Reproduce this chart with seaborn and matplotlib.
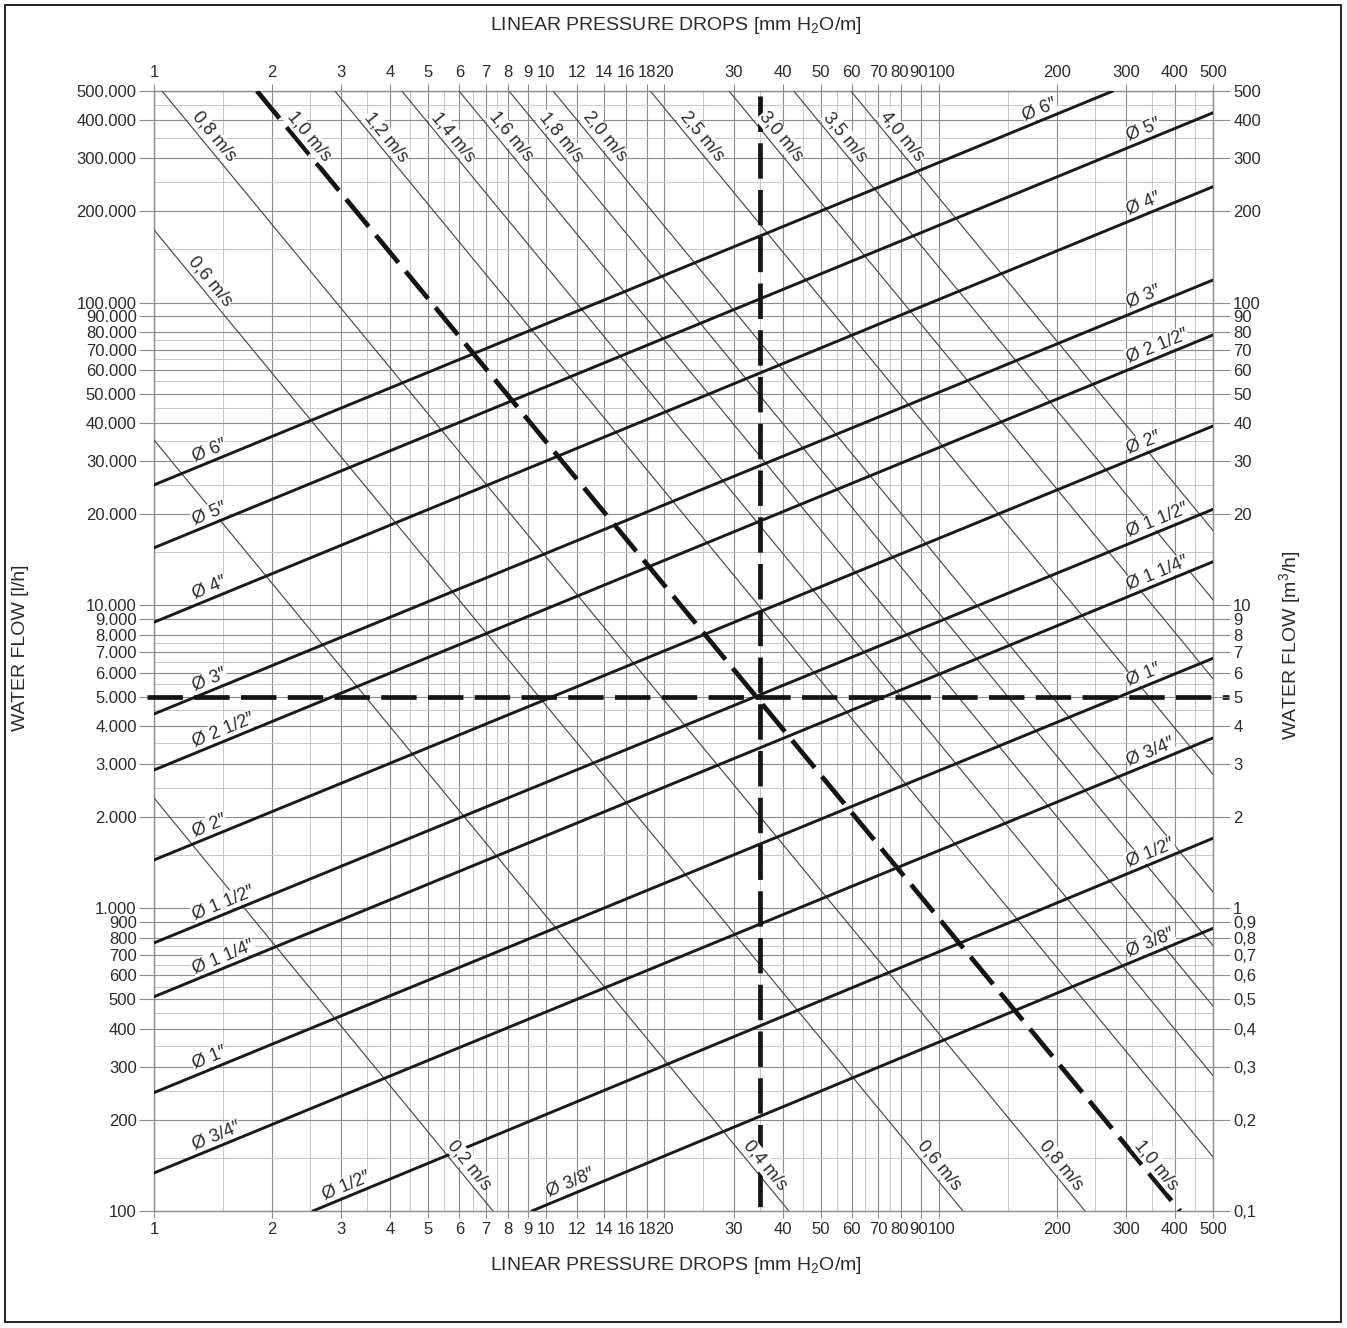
import numpy as np
import pandas as pd
import matplotlib
matplotlib.use("Agg")
import matplotlib.pyplot as plt
import matplotlib.transforms as mtransforms
import seaborn as sns
from matplotlib.patches import Rectangle
from matplotlib.ticker import NullFormatter, NullLocator

# ---------------- data ----------------
x_tick_values = [1, 2, 3, 4, 5, 6, 7, 8, 9, 10, 12, 14, 16, 18, 20, 30, 40, 50, 60, 70, 80, 90,
                 100, 200, 300, 400, 500]
x_tick_labels = ["1", "2", "3", "4", "5", "6", "7", "8", "9", "10", "12", "14", "16", "18", "20",
                 "30", "40", "50", "60", "70", "80", "90", "100", "200", "300", "400", "500"]
x_minor_grid = [1.5, 2.5, 3.5, 4.5, 5.5, 6.5, 7.5, 25, 35, 45, 55, 65, 75, 150, 250, 350, 450]

y_tick_values = [100, 200, 300, 400, 500, 600, 700, 800, 900,
                 1000, 2000, 3000, 4000, 5000, 6000, 7000, 8000, 9000,
                 10000, 20000, 30000, 40000, 50000, 60000, 70000, 80000, 90000,
                 100000, 200000, 300000, 400000, 500000]
y_left_labels = ["100", "200", "300", "400", "500", "600", "700", "800", "900",
                 "1.000", "2.000", "3.000", "4.000", "5.000", "6.000", "7.000", "8.000", "9.000",
                 "10.000", "20.000", "30.000", "40.000", "50.000", "60.000", "70.000", "80.000", "90.000",
                 "100.000", "200.000", "300.000", "400.000", "500.000"]
y_right_labels = ["0,1", "0,2", "0,3", "0,4", "0,5", "0,6", "0,7", "0,8", "0,9",
                  "1", "2", "3", "4", "5", "6", "7", "8", "9",
                  "10", "20", "30", "40", "50", "60", "70", "80", "90",
                  "100", "200", "300", "400", "500"]
y_minor_grid = [150, 250, 350, 450, 550, 650, 750,
                1500, 2500, 3500, 4500, 5500, 6500, 7500,
                15000, 25000, 35000, 45000, 55000, 65000, 75000,
                150000, 250000, 350000, 450000]

# pipe diameter lines (start / end points)
diam_names = ["Ø 6\u2033", "Ø 5\u2033", "Ø 4\u2033", "Ø 3\u2033", "Ø 2 1/2\u2033", "Ø 2\u2033",
              "Ø 1 1/2\u2033", "Ø 1 1/4\u2033", "Ø 1\u2033", "Ø 3/4\u2033", "Ø 1/2\u2033", "Ø 3/8\u2033"]
diam_x0 = [1, 1, 1, 1, 1, 1, 1, 1, 1, 1, 2.54, 9.18]
diam_y0 = [25000, 15500, 8800, 4380, 2860, 1443, 768, 510, 246, 133.5, 100, 100]
diam_x1 = [278, 500, 500, 500, 500, 500, 500, 500, 500, 500, 500, 500]
diam_y1 = [500000, 423700, 241500, 118800, 78200, 39130, 20770, 13940, 6690, 3650, 1702, 858]

# velocity lines (start / end points)
vel_names = ["0,2 m/s", "0,4 m/s", "0,6 m/s", "0,8 m/s", "1,0 m/s", "1,2 m/s", "1,4 m/s",
             "1,6 m/s", "1,8 m/s", "2,0 m/s", "2,5 m/s", "3,0 m/s", "3,5 m/s", "4,0 m/s"]
vel_x0 = [1, 1, 1, 1.048, 1.83, 2.89, 4.28, 5.99, 8.03, 10.4, 18.4, 29.2, 42.7, 59.7]
vel_y0 = [2312, 35200, 173800, 500000, 500000, 500000, 500000, 500000, 500000, 500000,
          500000, 500000, 500000, 500000]
vel_x1 = [7.31, 41.5, 115.3, 236, 412, 500, 500, 500, 500, 500, 500, 500, 500, 500]
vel_y1 = [100, 100, 100, 100, 100, 150.8, 280, 475, 752, 1131, 2765, 5730, 10440, 17680]

# example reading (dashed guide lines)
guide_h_x = [0.96, 550]
guide_h_y = [5000, 5000]
guide_v_x = [35, 35]
guide_v_y = [480000, 100]

# ---------------- layout (label placement) ----------------
diam_label_left_x = [1.287] * 10 + [2.76, 10.3]
diam_label_right_x = [168] + [309] * 11
vel_label_top_y = 335000
vel_label_left_y = 111700
vel_label_bottom_y = 134.5
vel_top_labelled = ["0,8 m/s", "1,0 m/s", "1,2 m/s", "1,4 m/s", "1,6 m/s", "1,8 m/s", "2,0 m/s",
                    "2,5 m/s", "3,0 m/s", "3,5 m/s", "4,0 m/s"]
vel_left_labelled = ["0,6 m/s"]
vel_bottom_labelled = ["0,2 m/s", "0,4 m/s", "0,6 m/s", "0,8 m/s", "1,0 m/s"]
xlabel_nudge_px = {"80": -1.5, "90": -2.5, "100": 3.0}

# ---------------- style ----------------
sns.set_theme(style="white")
FONT = ["Liberation Sans", "DejaVu Sans"]
plt.rcParams["font.family"] = FONT
plt.rcParams["mathtext.fontset"] = "custom"
plt.rcParams["mathtext.rm"] = "Liberation Sans"
plt.rcParams["mathtext.it"] = "Liberation Sans"
plt.rcParams["mathtext.bf"] = "Liberation Sans"
plt.rcParams["mathtext.default"] = "regular"

W, H = 1347, 1328
fig = plt.figure(figsize=(W / 100, H / 100), dpi=100)
fig.patch.set_facecolor("white")
L, R, T, B = 154, 1213, 91, 1211
ax = fig.add_axes([L / W, 1 - B / H, (R - L) / W, (B - T) / H])
ax.set_xscale("log")
ax.set_yscale("log")
ax.set_facecolor("white")

GRID_MAJ = "#8c8c8c"
GRID_MIN = "#c9c9c9"
TXT = "#2b2b2b"
TICK_FS = 12

# velocity thin lines
vel_rows = []
for n, xa, ya, xb, yb in zip(vel_names, vel_x0, vel_y0, vel_x1, vel_y1):
    if n == "1,0 m/s":
        continue
    vel_rows += [(n, xa, ya), (n, xb, yb)]
vel_df = pd.DataFrame(vel_rows, columns=["line", "x", "y"])
sns.lineplot(data=vel_df, x="x", y="y", units="line", estimator=None, sort=False,
             color="#4a4a4a", lw=0.85, legend=False, ax=ax, zorder=3)

# diameter lines
dia_rows = []
for n, xa, ya, xb, yb in zip(diam_names, diam_x0, diam_y0, diam_x1, diam_y1):
    dia_rows += [(n, xa, ya), (n, xb, yb)]
dia_df = pd.DataFrame(dia_rows, columns=["line", "x", "y"])
sns.lineplot(data=dia_df, x="x", y="y", units="line", estimator=None, sort=False,
             color="#1a1a1a", lw=2.1, legend=False, ax=ax, zorder=4)

# dashed guide lines
DASH = (0, (7.5, 2.4))
i10 = vel_names.index("1,0 m/s")
sns.lineplot(x=[vel_x0[i10], vel_x1[i10]], y=[vel_y0[i10], vel_y1[i10]], estimator=None, sort=False,
             color="#141414", lw=3.4, linestyle=DASH, ax=ax, zorder=5, legend=False)
sns.lineplot(x=guide_h_x, y=guide_h_y, estimator=None, sort=False, color="#141414", lw=3.4,
             linestyle=DASH, ax=ax, zorder=5, clip_on=False, legend=False)
sns.lineplot(x=guide_v_x, y=guide_v_y, estimator=None, sort=False, color="#141414", lw=3.4,
             linestyle=DASH, ax=ax, zorder=5, legend=False)

ax.set_xlim(1, 500)
ax.set_ylim(100, 500000)
ax.set_xlabel("")
ax.set_ylabel("")

# grid & ticks
ax.set_xticks(x_tick_values, labels=x_tick_labels)
ax.set_xticks(x_minor_grid, minor=True)
ax.xaxis.set_minor_formatter(NullFormatter())
ax.set_yticks(y_tick_values, labels=y_left_labels)
ax.set_yticks(y_minor_grid, minor=True)
ax.yaxis.set_minor_formatter(NullFormatter())
ax.grid(True, which="major", color=GRID_MAJ, lw=0.8, zorder=0)
ax.grid(True, which="minor", color=GRID_MIN, lw=0.75, zorder=0)
ax.set_axisbelow(True)
ax.tick_params(axis="x", which="major", top=True, bottom=True, labeltop=True, labelbottom=True,
               length=5, width=0.8, color=GRID_MAJ, pad=3, labelsize=TICK_FS, labelcolor=TXT)
ax.tick_params(axis="y", which="major", left=True, right=False, length=11, width=0.8,
               color=GRID_MAJ, pad=1.5, labelsize=TICK_FS, labelcolor=TXT)
ax.tick_params(which="minor", length=0)
for s in ax.spines.values():
    s.set_color(GRID_MAJ)
    s.set_linewidth(1.0)

tw = ax.twinx()
tw.set_yscale("log")
tw.set_ylim(100, 500000)
tw.set_yticks(y_tick_values, labels=y_right_labels)
tw.yaxis.set_minor_locator(NullLocator())
tw.tick_params(axis="y", right=True, length=12, width=0.8, color=GRID_MAJ, pad=2.5,
               labelsize=TICK_FS, labelcolor=TXT)
tw.grid(False)
for s in tw.spines.values():
    s.set_visible(False)

# nudge the crowded x tick labels apart a little (as in the reference, "8090100")
fig.canvas.draw()
for tk in ax.xaxis.get_major_ticks():
    txt = tk.label1.get_text()
    if txt in xlabel_nudge_px:
        dx = xlabel_nudge_px[txt] / 100.0
        for lab in (tk.label1, tk.label2):
            lab.set_transform(lab.get_transform() +
                              mtransforms.ScaledTranslation(dx, 0, fig.dpi_scale_trans))

# ---------------- labels along lines ----------------
def disp_angle(xa, ya, xb, yb):
    p0 = ax.transData.transform((xa, ya))
    p1 = ax.transData.transform((xb, yb))
    return np.degrees(np.arctan2(p1[1] - p0[1], p1[0] - p0[0]))

def y_on_line(x, xa, ya, xb, yb):
    s = np.log10(yb / ya) / np.log10(xb / xa)
    return ya * (x / xa) ** s

def x_on_line(y, xa, ya, xb, yb):
    s = np.log10(yb / ya) / np.log10(xb / xa)
    return xa * (y / ya) ** (1 / s)

for i, n in enumerate(diam_names):
    xa, ya, xb, yb = diam_x0[i], diam_y0[i], diam_x1[i], diam_y1[i]
    ang = disp_angle(xa, ya, xb, yb)
    th = np.radians(ang)
    off = 1.8
    for lx in (diam_label_left_x[i], diam_label_right_x[i]):
        ly = y_on_line(lx, xa, ya, xb, yb)
        ax.annotate(n, (lx, ly), xytext=(-np.sin(th) * off, np.cos(th) * off),
                    textcoords="offset points", ha="left", va="bottom", rotation=ang,
                    rotation_mode="anchor", fontsize=13, color=TXT,
                    bbox=dict(fc="white", ec="none", pad=0.3), zorder=7)

for i, n in enumerate(vel_names):
    xa, ya, xb, yb = vel_x0[i], vel_y0[i], vel_x1[i], vel_y1[i]
    ang = disp_angle(xa, ya, xb, yb)
    th = np.radians(ang)
    off = 7.8
    spots = []
    if n in vel_top_labelled:
        spots.append(vel_label_top_y)
    if n in vel_left_labelled:
        spots.append(vel_label_left_y)
    if n in vel_bottom_labelled:
        spots.append(vel_label_bottom_y)
    for ly in spots:
        lx = x_on_line(ly, xa, ya, xb, yb)
        ax.annotate(n, (lx, ly), xytext=(-np.sin(th) * off, np.cos(th) * off),
                    textcoords="offset points", ha="center", va="center", rotation=ang,
                    rotation_mode="anchor", fontsize=13, color=TXT,
                    bbox=dict(fc="white", ec="none", pad=0.2), zorder=7)

# ---------------- axis titles ----------------
fig.text(676 / W, 1 - 26 / H, "LINEAR PRESSURE DROPS [mm H$_2$O/m]", ha="center", va="center",
         fontsize=14, color=TXT)
fig.text(676 / W, 1 - 1265 / H, "LINEAR PRESSURE DROPS [mm H$_2$O/m]", ha="center", va="center",
         fontsize=14, color=TXT)
fig.text(21 / W, 1 - 648 / H, "WATER FLOW [l/h]", ha="center", va="center", rotation=90,
         fontsize=14, color=TXT)
fig.text(1290 / W, 1 - 645 / H, "WATER FLOW [m$^3$/h]", ha="center", va="center", rotation=90,
         fontsize=14, color=TXT)

# outer frame
fig.patches.append(Rectangle((5 / W, 1 - 1322 / H), (1341 - 5) / W, (1322 - 5) / H,
                             transform=fig.transFigure, fill=False, ec="#111111", lw=1.3))

fig.savefig("out.png", dpi=100, facecolor="white")
